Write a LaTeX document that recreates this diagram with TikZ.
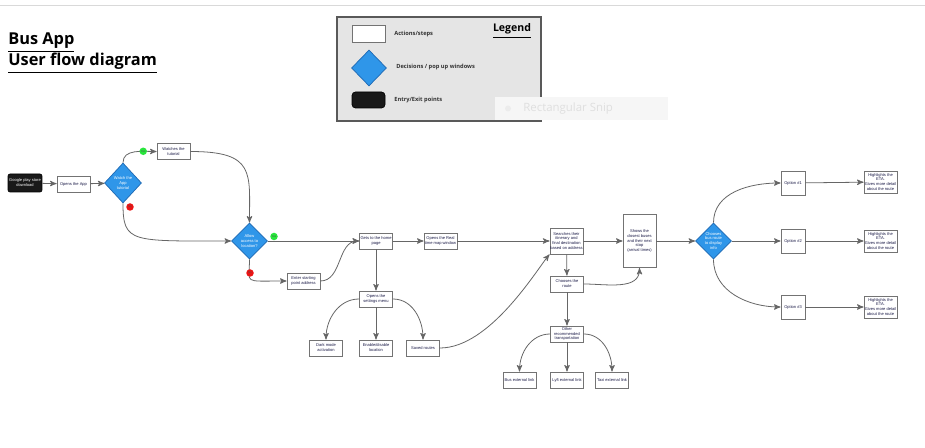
\documentclass[tikz,border=0pt]{standalone}
\usepackage{fontspec}
\setmainfont{Open Sans}
\newfontfamily\boxfont{Liberation Sans}
\usetikzlibrary{arrows, shapes.geometric}
\definecolor{decblue}{RGB}{47,150,233}
\definecolor{decedge}{RGB}{30,105,180}
\definecolor{boxtext}{RGB}{25,25,70}
\definecolor{legendgray}{RGB}{229,229,229}
\definecolor{yesgreen}{RGB}{40,230,60}
\definecolor{nored}{RGB}{235,20,20}
\tikzset{
    stepbox/.style = {draw=black!55, fill=white, line width=0.45pt, minimum width=0.66cm, minimum height=0.32cm, inner sep=0.3pt, align=center, text=boxtext, font=\boxfont\fontsize{2.3}{2.8}\selectfont},
    decision/.style = {diamond, draw=decedge, fill=decblue, line width=0.4pt, minimum width=0.72cm, minimum height=0.72cm, inner sep=0pt, align=center, text=white, font=\boxfont\fontsize{2.3}{2.8}\selectfont},
    entry/.style = {rounded corners=1.2pt, draw=black, fill=black!90, minimum width=0.68cm, minimum height=0.36cm, inner sep=0.3pt, align=center, text=white, font=\boxfont\fontsize{2.3}{2.8}\selectfont},
    yesdot/.style = {circle, fill=yesgreen, inner sep=0pt, minimum size=0.15cm, text=black!70, font=\boxfont\fontsize{1.6}{2}\selectfont},
    nodot/.style = {yesdot, fill=nored},
    flow/.style = {draw=black!60, line width=0.45pt},
    keytext/.style = {anchor=west, inner sep=0pt, text=black!80, font=\bfseries\fontsize{3.25}{4}\selectfont},
    >=stealth'
}

\begin{document}
\begin{tikzpicture}[x=0.02cm, y=0.02cm]
        \useasboundingbox[fill=white] (0,0) rectangle (925,-448);
        \path[draw, black!15, line width=0.4pt] (0,-5) -- (925,-5);
        \node[anchor=base west, inner sep=0pt, font=\bfseries\fontsize{9.3}{11}\selectfont] (title) at (8,-45) {\underline{Bus App}};
        \node[anchor=base west, inner sep=0pt, font=\bfseries\fontsize{9.3}{11}\selectfont] (subtitle) at (8,-66) {\underline{User flow diagram}};
        \scope
            \node[draw=black!65, fill=legendgray, line width=0.6pt, minimum width=4.08cm, minimum height=2.08cm] (legend) at (439,-69) {};
            \node[stepbox, minimum height=0.34cm] (keystep) at (368.5,-33.5) {};
            \node[decision, minimum width=0.7cm] (keydec) at (369,-68) {};
            \node[entry, minimum width=0.66cm, minimum height=0.32cm, rounded corners=2pt] (keyentry) at (368.5,-100) {};
            \node[keytext] (keysteptext) at (394,-34) {Actions/steps};
            \node[keytext] (keydectext) at (396,-67) {Decisions / pop up windows};
            \node[keytext] (keyentrytext) at (394,-100) {Entry/Exit points};
            \node[inner sep=0pt, font=\bfseries\fontsize{6}{7}\selectfont] (legendtitle) at (512,-31) {\underline{Legend}};
        \endscope
        \path[fill=blue!3!gray!7] (495,-97) rectangle (668,-120);
        \node[circle, fill=gray!15, minimum size=0.12cm, inner sep=0pt] (snipicon) at (508,-108.5) {};
        \node[anchor=west, inner sep=0pt, text=gray!25, font=\fontsize{6.5}{8}\selectfont] (sniptext) at (523,-108.5) {Rectangular Snip};
        \node[entry] (store) at (25,-183) {Google play store\\download};
        \node[stepbox] (open) at (73.5,-184) {Opens the App};
        \node[decision, minimum width=0.74cm, minimum height=0.8cm] (tutq) at (123,-183) {Watch the\\App\\tutorial};
        \node[stepbox] (tut) at (173.5,-151.5) {Watches the\\tutorial};
        \node[decision] (locq) at (249.5,-241) {Allow\\access to\\location?};
        \node[stepbox] (addr) at (303.5,-281) {Enter starting\\point address};
        \node[stepbox] (home) at (376,-241) {Gets to the home\\page};
        \node[stepbox] (map) at (440.5,-241) {Opens the Real\\time map window};
        \node[stepbox] (menu) at (376,-299) {Opens the\\settings menu};
        \node[stepbox] (dark) at (326,-348) {Dark mode\\activation};
        \node[stepbox] (gps) at (376,-348) {Enable/disable\\location};
        \node[stepbox] (saved) at (423,-348) {Saved routes};
        \node[stepbox, minimum height=0.52cm] (search) at (566.5,-241) {Searches their\\itinerary and\\final destination\\based on address};
        \node[stepbox, minimum height=1.06cm] (buses) at (639.5,-241) {Shows the\\closest buses\\and their next\\stop\\(arrival times)};
        \node[stepbox] (route) at (567,-284) {Chooses the\\route};
        \node[stepbox] (other) at (567,-334) {Other\\recommended\\transportation};
        \node[stepbox] (bus) at (519.5,-380) {Bus external link};
        \node[stepbox] (lyft) at (567,-380) {Lyft external link};
        \node[stepbox] (taxi) at (612,-380) {Taxi external link};
        \node[decision] (pick) at (713.5,-241) {Chooses\\bus route\\to display\\info};
        \node[stepbox, minimum width=0.48cm, minimum height=0.48cm] (opt1) at (793,-183) {Option \#1};
        \node[stepbox, minimum width=0.48cm, minimum height=0.48cm] (opt2) at (793,-241) {Option \#2};
        \node[stepbox, minimum width=0.48cm, minimum height=0.48cm] (opt3) at (793,-307) {Option \#3};
        \foreach \i/\y in {1/-182, 2/-241, 3/-307}
            \node[stepbox, minimum height=0.44cm] (eta\i) at (880.5,\y) {Highlights the\\ETA.\\Gives more detail\\about the route};
        \path[flow, ->] (store) -- (open);
        \path[flow, ->] (open) -- (tutq);
        \path[flow, ->] (tutq.north) to[out=90, in=180] node[yesdot, pos=0.7] (yes1) {Yes} (tut.west);
        \path[flow, ->] (tut.east) to[out=0, in=90, out distance=1.3cm, in distance=1cm] (locq.north);
        \path[flow, ->] (tutq.south) to[out=-90, in=180, out distance=0.8cm, in distance=2cm] (locq.west);
        \node[nodot] (no1) at (130,-207) {No};
        \path[flow, ->] (locq) -- (home);
        \node[yesdot] (yes2) at (274,-236.5) {Yes};
        \path[flow, ->] (locq.south) to[out=-90, in=180, out distance=0.5cm, in distance=0.9cm] (addr.west);
        \node[nodot] (no2) at (250,-273) {No};
        \path[flow, ->] (addr.east) to[out=0, in=180] (home.west);
        \path[flow, ->] (home) -- (map);
        \path[flow, ->] (map) -- (search);
        \path[flow, ->] (home) -- (menu);
        \path[flow, ->] (menu.west) to[out=180, in=90] (dark.north);
        \path[flow, ->] (menu) -- (gps);
        \path[flow, ->] (menu.east) to[out=0, in=90] (saved.north);
        \path[flow, ->] (saved.east) to[out=0, in=-130, out distance=1cm, in distance=0.4cm] (search.south west);
        \path[flow, ->] (search) -- (buses);
        \path[flow, ->] (buses) -- (pick);
        \path[flow, ->] (search) -- (route);
        \path[flow, ->] (route.east) to[out=0, in=-90] (buses.south);
        \path[flow, ->] (route) -- (other);
        \path[flow, ->] (other.west) to[out=180, in=90] (bus.north);
        \path[flow, ->] (other) -- (lyft);
        \path[flow, ->] (other.east) to[out=0, in=90] (taxi.north);
        \path[flow, ->] (pick.north) to[out=90, in=180] (opt1.west);
        \path[flow, ->] (pick) -- (opt2);
        \path[flow, ->] (pick.south) to[out=-90, in=180] (opt3.west);
        \foreach \i in {1,2,3}
            \path[flow, ->] (opt\i) -- (eta\i);
    \end{tikzpicture}
\end{document}
